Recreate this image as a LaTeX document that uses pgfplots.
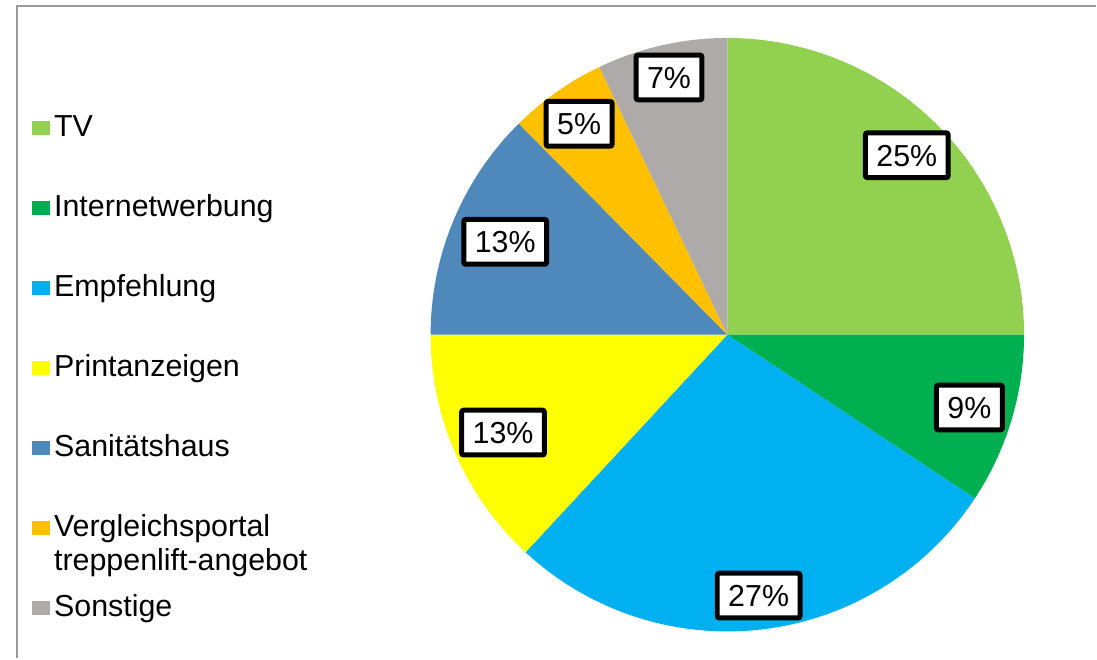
\documentclass[border=0pt]{standalone}
\usepackage{pgfplots}
\pgfplotsset{compat=1.18}
\usepackage{fontspec}
\setmainfont{Liberation Sans}
\definecolor{c0}{HTML}{92D050}
\definecolor{c1}{HTML}{00B050}
\definecolor{c2}{HTML}{00B0F0}
\definecolor{c3}{HTML}{FFFF00}
\definecolor{c4}{HTML}{4F88BB}
\definecolor{c5}{HTML}{FFC000}
\definecolor{c6}{HTML}{AEAAAA}
\definecolor{framegray}{HTML}{9A9A9A}
\pgfplotsset{sq/.style={legend image code/.code={\fill[#1] (0pt,-3.25pt) rectangle (8.5pt,3.25pt);}}}
\begin{document}
\begin{tikzpicture}
% value (percent) / label radius (px) / label text
\xdef\cum{0}
\foreach \v/\lr/\lab [count=\i from 0] in {25/254/25, 9.3/253/9, 27.6/263/27, 13.1/245/13, 12.6/241/13, 5.3/258/5, 7.1/264/7} {
  \pgfmathsetmacro\s{90-3.6*\cum}
  \pgfmathsetmacro\nc{\cum+\v}
  \pgfmathsetmacro\e{90-3.6*\nc}
  \pgfmathsetmacro\m{(\s+\e)/2}
  \pgfmathsetmacro\lx{728+\lr*cos(\m)}
  \pgfmathsetmacro\ly{324+\lr*sin(\m)}
  \expandafter\xdef\csname pS\i\endcsname{\s}
  \expandafter\xdef\csname pE\i\endcsname{\e}
  \expandafter\xdef\csname pX\i\endcsname{\lx}
  \expandafter\xdef\csname pY\i\endcsname{\ly}
  \expandafter\xdef\csname pL\i\endcsname{\lab}
  \xdef\cum{\nc}
}
\begin{axis}[
  width=548.5pt, height=329.5pt, scale only axis,
  xmin=0, xmax=1097, ymin=0, ymax=659,
  hide axis, clip=false,
  legend cell align=left,
  legend style={at={(axis cs:32,546)}, anchor=north west, draw=none, fill=none,
    inner sep=0pt, outer sep=0pt, row sep=25pt, column sep=2.2pt,
    font=\fontsize{15.2}{17}\selectfont,
    nodes={inner sep=0pt, text height=12pt, text depth=3pt}},
]
\path (axis cs:0,0) rectangle (axis cs:1097,659);
\draw[framegray, line width=1pt] (axis cs:17,0) -- (axis cs:17,653) -- (axis cs:1097,653);
\pgfplotsinvokeforeach{0,...,6}{
  \edef\temp{\noexpand\fill[c#1] (axis cs:728,324) -- ++(\csname pS#1\endcsname:148.5pt) arc[start angle=\csname pS#1\endcsname, end angle=\csname pE#1\endcsname, radius=148.5pt] -- cycle;}
  \temp
}
\pgfplotsinvokeforeach{0,...,6}{
  \edef\temp{\noexpand\node[draw=black, line width=2.5pt, fill=white, rounded corners=1pt, inner xsep=5.5pt, inner ysep=5.7pt, text height=11pt, text depth=0pt, font=\noexpand\fontsize{15.2}{17}\noexpand\selectfont] at (axis cs:\csname pX#1\endcsname,\csname pY#1\endcsname) {\csname pL#1\endcsname\noexpand\%};}
  \temp
}
\addlegendimage{sq=c0}\addlegendentry{TV}
\addlegendimage{sq=c1}\addlegendentry{Internetwerbung}
\addlegendimage{sq=c2}\addlegendentry{Empfehlung}
\addlegendimage{sq=c3}\addlegendentry{Printanzeigen}
\addlegendimage{sq=c4}\addlegendentry{Sanitätshaus}
\addlegendimage{sq=c5}\addlegendentry{\vtop{\baselineskip=17pt\hbox{Vergleichsportal}\hbox{treppenlift-angebot}}}
\addlegendimage{sq=c6}\addlegendentry{Sonstige}
\end{axis}
\end{tikzpicture}
\end{document}
